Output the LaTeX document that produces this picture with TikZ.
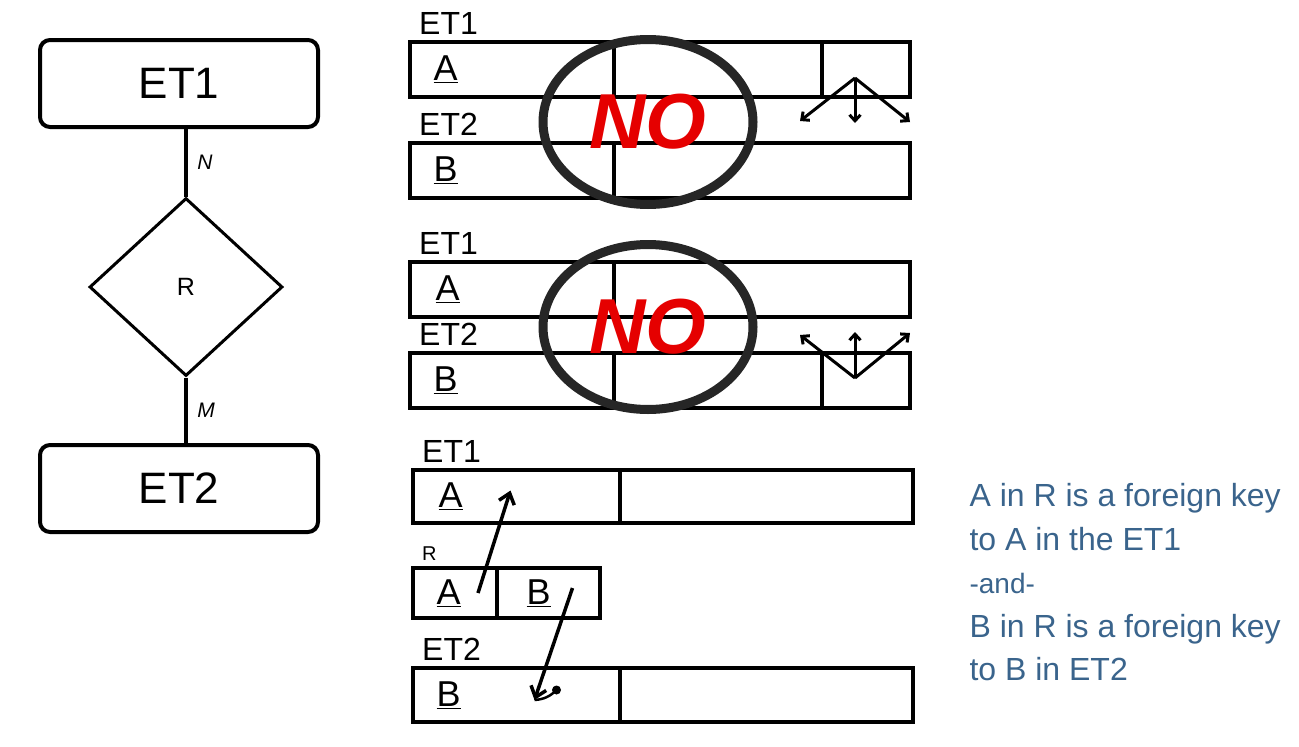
\documentclass[tikz,border=0pt]{standalone}
\usepackage{fontspec}
\setmainfont{Liberation Sans}
\usetikzlibrary{positioning,shapes.geometric,arrows.meta}
\definecolor{notecol}{RGB}{58,100,140}

\begin{document}
\begin{tikzpicture}[x=1pt,y=-1pt,
  entity/.style={draw, rounded corners=10pt, line width=4pt, minimum width=278pt, minimum height=87pt, font=\fontsize{44}{46}\selectfont},
  relation/.style={draw, diamond, line width=3pt, minimum width=193pt, minimum height=178pt, inner sep=0pt, font=\fontsize{25}{27}\selectfont},
  card/.style={font=\itshape\fontsize{21}{23}\selectfont},
  cell/.style={draw, line width=4pt, outer sep=0pt, inner sep=0pt},
  tname/.style={font=\fontsize{32}{34}\selectfont, inner sep=0pt, anchor=south west, xshift=9pt, yshift=7pt},
  keyname/.style={font=\fontsize{36}{38}\selectfont, anchor=west},
  nomark/.style={draw=black!85, line width=9pt, ellipse, minimum width=210pt, minimum height=165pt, text=red!90!black, font=\bfseries\itshape\fontsize{78}{78}\selectfont},
  crow/.style={-{Straight Barb[length=6pt,width=11pt]}, line width=3pt},
  fk/.style={-{Straight Barb[length=10pt,width=16pt]}, line width=3.5pt},
  note/.style={text=notecol, align=left, anchor=north west, font=\fontsize{32}{43.5}\selectfont}
]
\useasboundingbox (0,0) rectangle (1299,747);

% ER diagram
\node[entity] (et1) at (179,83.5) {ET1};
\node[relation] (rel) at (186,287) {R};
\node[entity] (et2) at (179,488.5) {ET2};
\draw[line width=4pt] (rel.north) -- (rel.north |- et1.south) node[card, midway, right=6pt] {N};
\draw[line width=4pt] (rel.south) -- (rel.south |- et2.north) node[card, midway, right=6pt] {M};

% first try: key of R in ET1
\node[cell, minimum width=204pt, minimum height=55pt, label={[tname]north west:ET1}] (t1a) at (512,69.5) {};
\node[cell, minimum width=208pt, minimum height=55pt, right=0pt of t1a] (t1b) {};
\node[cell, minimum width=88pt, minimum height=55pt, right=0pt of t1b] (t1c) {};
\node[keyname] (t1k) at ([xshift=20pt]t1a.west) {\underline{A}};
\node[cell, minimum width=204pt, minimum height=55pt, label={[tname]north west:ET2}] (t2a) at (512,170.5) {};
\node[cell, minimum width=296pt, minimum height=55pt, right=0pt of t2a] (t2b) {};
\node[keyname] (t2k) at ([xshift=20pt]t2a.west) {\underline{B}};
\coordinate (f1) at (855,78);
\coordinate (f1l) at (800,121);
\coordinate (f1m) at (855,123);
\coordinate (f1r) at (910,122);
\draw[crow] (f1) -- (f1l);
\draw[crow] (f1) -- (f1m);
\draw[crow] (f1) -- (f1r);
\node[nomark] (no1) at (648,122) {NO};

% second try: key of R in ET2
\node[cell, minimum width=204pt, minimum height=55pt, label={[tname]north west:ET1}] (u1a) at (512,289.5) {};
\node[cell, minimum width=296pt, minimum height=55pt, right=0pt of u1a] (u1b) {};
\node[keyname] (u1k) at ([xshift=22pt]u1a.west) {\underline{A}};
\node[cell, minimum width=204pt, minimum height=55pt, label={[tname]north west:ET2}] (u2a) at (512,380.5) {};
\node[cell, minimum width=208pt, minimum height=55pt, right=0pt of u2a] (u2b) {};
\node[cell, minimum width=88pt, minimum height=55pt, right=0pt of u2b] (u2c) {};
\node[keyname] (u2k) at ([xshift=20pt]u2a.west) {\underline{B}};
\coordinate (f2) at (855,378);
\coordinate (f2l) at (800,335);
\coordinate (f2m) at (855,332);
\coordinate (f2r) at (910,333);
\draw[crow] (f2) -- (f2l);
\draw[crow] (f2) -- (f2m);
\draw[crow] (f2) -- (f2r);
\node[nomark] (no2) at (648,327) {NO};

% separate table for R
\node[cell, minimum width=207pt, minimum height=53pt, label={[tname]north west:ET1}] (s1a) at (516.5,496.5) {};
\node[cell, minimum width=293pt, minimum height=53pt, right=0pt of s1a] (s1b) {};
\node[keyname] (s1k) at ([xshift=22pt]s1a.west) {\underline{A}};
\node[cell, minimum width=84pt, minimum height=50pt, label={[tname, font=\fontsize{20}{22}\selectfont]north west:R}] (ra) at (455,593) {};
\node[cell, minimum width=103pt, minimum height=50pt, right=0pt of ra] (rb) {};
\node[keyname] (rak) at ([xshift=20pt]ra.west) {\underline{A}};
\node[keyname] (rbk) at ([xshift=26pt]rb.west) {\underline{B}};
\node[cell, minimum width=207pt, minimum height=54pt, label={[tname]north west:ET2}] (s2a) at (516.5,695) {};
\node[cell, minimum width=293pt, minimum height=54pt, right=0pt of s2a] (s2b) {};
\node[keyname] (s2k) at ([xshift=20pt]s2a.west) {\underline{B}};
\draw[fk] ([xshift=-19pt]ra.east) -- ([xshift=-6pt,yshift=6pt]s1a.center);
\coordinate (tip) at ([xshift=18pt,yshift=-5pt]s2a.center);
\coordinate (dot) at ([xshift=40pt,yshift=5pt]s2a.center);
\draw[fk] ([xshift=24pt,yshift=5pt]rb.center) -- (tip);
\draw[line width=2.5pt] (tip) to[bend right=20] (dot);
\fill (dot) circle (4.5pt);

\node[note] (fknote) at (966,480) {A in R is a foreign key\\ to A in the ET1\\ {\fontsize{28}{43.5}\selectfont -and-}\\ B in R is a foreign key\\ to B in ET2};
\end{tikzpicture}
\end{document}
